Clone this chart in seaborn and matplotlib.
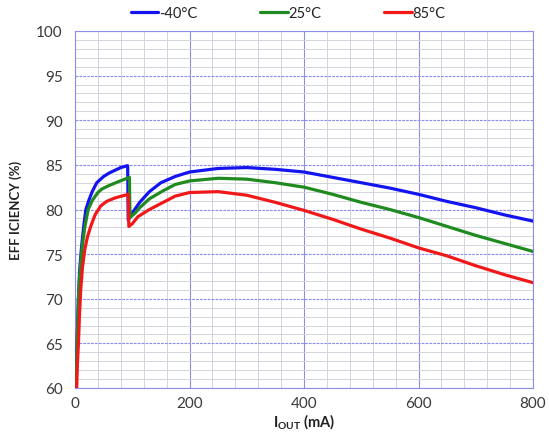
import numpy as np
import pandas as pd
import matplotlib
matplotlib.use("Agg")
import matplotlib.pyplot as plt
import seaborn as sns
from matplotlib.ticker import MultipleLocator

# Efficiency vs. output current at three ambient temperatures
labels = ["-40°C", "25°C", "85°C"]

iout_m40 = [2, 3, 4, 6, 8, 11, 15, 19, 24, 30, 38, 50, 60, 70, 80, 91, 92, 93,
            100, 113, 130, 150, 175, 200, 250, 300, 350, 400, 450, 500, 550,
            600, 650, 700, 750, 800]
eff_m40 = [60, 63, 66, 70, 73, 75.5, 78, 80, 81, 82, 83.0, 83.7, 84.1, 84.4,
           84.7, 84.9, 84.9, 78.8, 79.6, 80.8, 82.0, 83.0, 83.7, 84.2, 84.6,
           84.7, 84.5, 84.2, 83.6, 83.0, 82.4, 81.7, 80.9, 80.2, 79.4, 78.7]

iout_25 = [2, 3, 4, 6, 8, 12, 17, 23, 30, 40, 47, 60, 75, 95, 96, 105, 113,
           130, 154, 175, 200, 250, 300, 350, 400, 450, 500, 550, 600, 650,
           700, 750, 800]
eff_25 = [60, 63, 65.5, 70, 72.5, 75.5, 78, 80, 81, 81.9, 82.3, 82.7, 83.1,
          83.6, 79.1, 79.6, 80.2, 81.2, 82.1, 82.8, 83.2, 83.5, 83.4, 83.0,
          82.5, 81.7, 80.8, 80.0, 79.1, 78.1, 77.1, 76.2, 75.3]

iout_85 = [3, 4, 6, 8, 10, 13, 17, 22, 28, 35, 45, 55, 70, 93, 94, 100, 110,
           130, 154, 175, 200, 250, 300, 350, 400, 450, 500, 550, 600, 650,
           700, 750, 800]
eff_85 = [60, 62.5, 65, 68.5, 71, 73.5, 75.5, 77, 78.2, 79.4, 80.4, 80.9,
          81.3, 81.7, 78.1, 78.4, 79.2, 80.0, 80.8, 81.5, 81.9, 82.0, 81.6,
          80.8, 79.9, 78.9, 77.8, 76.8, 75.7, 74.8, 73.7, 72.7, 71.8]

colors = ["#1414f0", "#1f8a1f", "#f01818"]

frames = []
for lab, xs, ys in zip(labels, [iout_m40, iout_25, iout_85],
                       [eff_m40, eff_25, eff_85]):
    frames.append(pd.DataFrame({"iout": xs, "eff": ys, "temp": lab}))
df = pd.concat(frames, ignore_index=True)

sns.set_style("white")
plt.rcParams["font.family"] = ["Lato", "DejaVu Sans"]
plt.rcParams["mathtext.fontset"] = "custom"
plt.rcParams["mathtext.rm"] = "Lato"
plt.rcParams["mathtext.bf"] = "Lato:bold"

fig = plt.figure(figsize=(5.49, 4.39), dpi=100)
ax = fig.add_axes([75 / 549, 1 - 389 / 439, (533 - 75) / 549, (389 - 32) / 439])

sns.lineplot(data=df, x="iout", y="eff", hue="temp", palette=colors,
             estimator=None, sort=False, linewidth=2.3, ax=ax, legend=False,
             zorder=3)

ax.set_xlim(0, 800)
ax.set_ylim(60, 100)
ax.xaxis.set_major_locator(MultipleLocator(200))
ax.xaxis.set_minor_locator(MultipleLocator(40))
ax.yaxis.set_major_locator(MultipleLocator(5))
ax.yaxis.set_minor_locator(MultipleLocator(1))

grid_major = "#8c8cec"
grid_minor = "#d4d4dc"
ax.grid(which="minor", color=grid_minor, linewidth=0.7, zorder=0)
ax.grid(which="major", axis="x", color=grid_major, linewidth=0.8, zorder=1)
ax.grid(which="major", axis="y", color=grid_major, linewidth=0.8,
        linestyle=(0, (2.5, 1)), zorder=1)
ax.set_axisbelow(True)
for sp in ax.spines.values():
    sp.set_color(grid_major)
    sp.set_linewidth(0.8)
    sp.set_linestyle((0, (2, 1)))

ax.tick_params(which="both", length=0, labelsize=11, labelcolor="#3a3a3a")
ax.tick_params(axis="y", pad=9)
ax.tick_params(axis="x", pad=6)

ax.set_xlabel(r"$\mathbf{I}_{\mathbf{OUT}}$ (mA)", fontsize=10.5,
              fontweight="bold", color="#222222", labelpad=1)
ax.set_ylabel("EFF ICIENCY (%)", fontsize=9.5, fontweight="bold",
              color="#222222", labelpad=10)

handles = [plt.Line2D([], [], color=c, linewidth=2.3) for c in colors]
fig.legend(handles, labels, loc="center", bbox_to_anchor=(288 / 549, 1 - 14 / 439),
           ncol=3, frameon=False, fontsize=10.5, handlelength=1.9,
           handletextpad=0.05, columnspacing=4.3,
           labelcolor="#222222")

fig.savefig("out.png", dpi=100, facecolor="white")
